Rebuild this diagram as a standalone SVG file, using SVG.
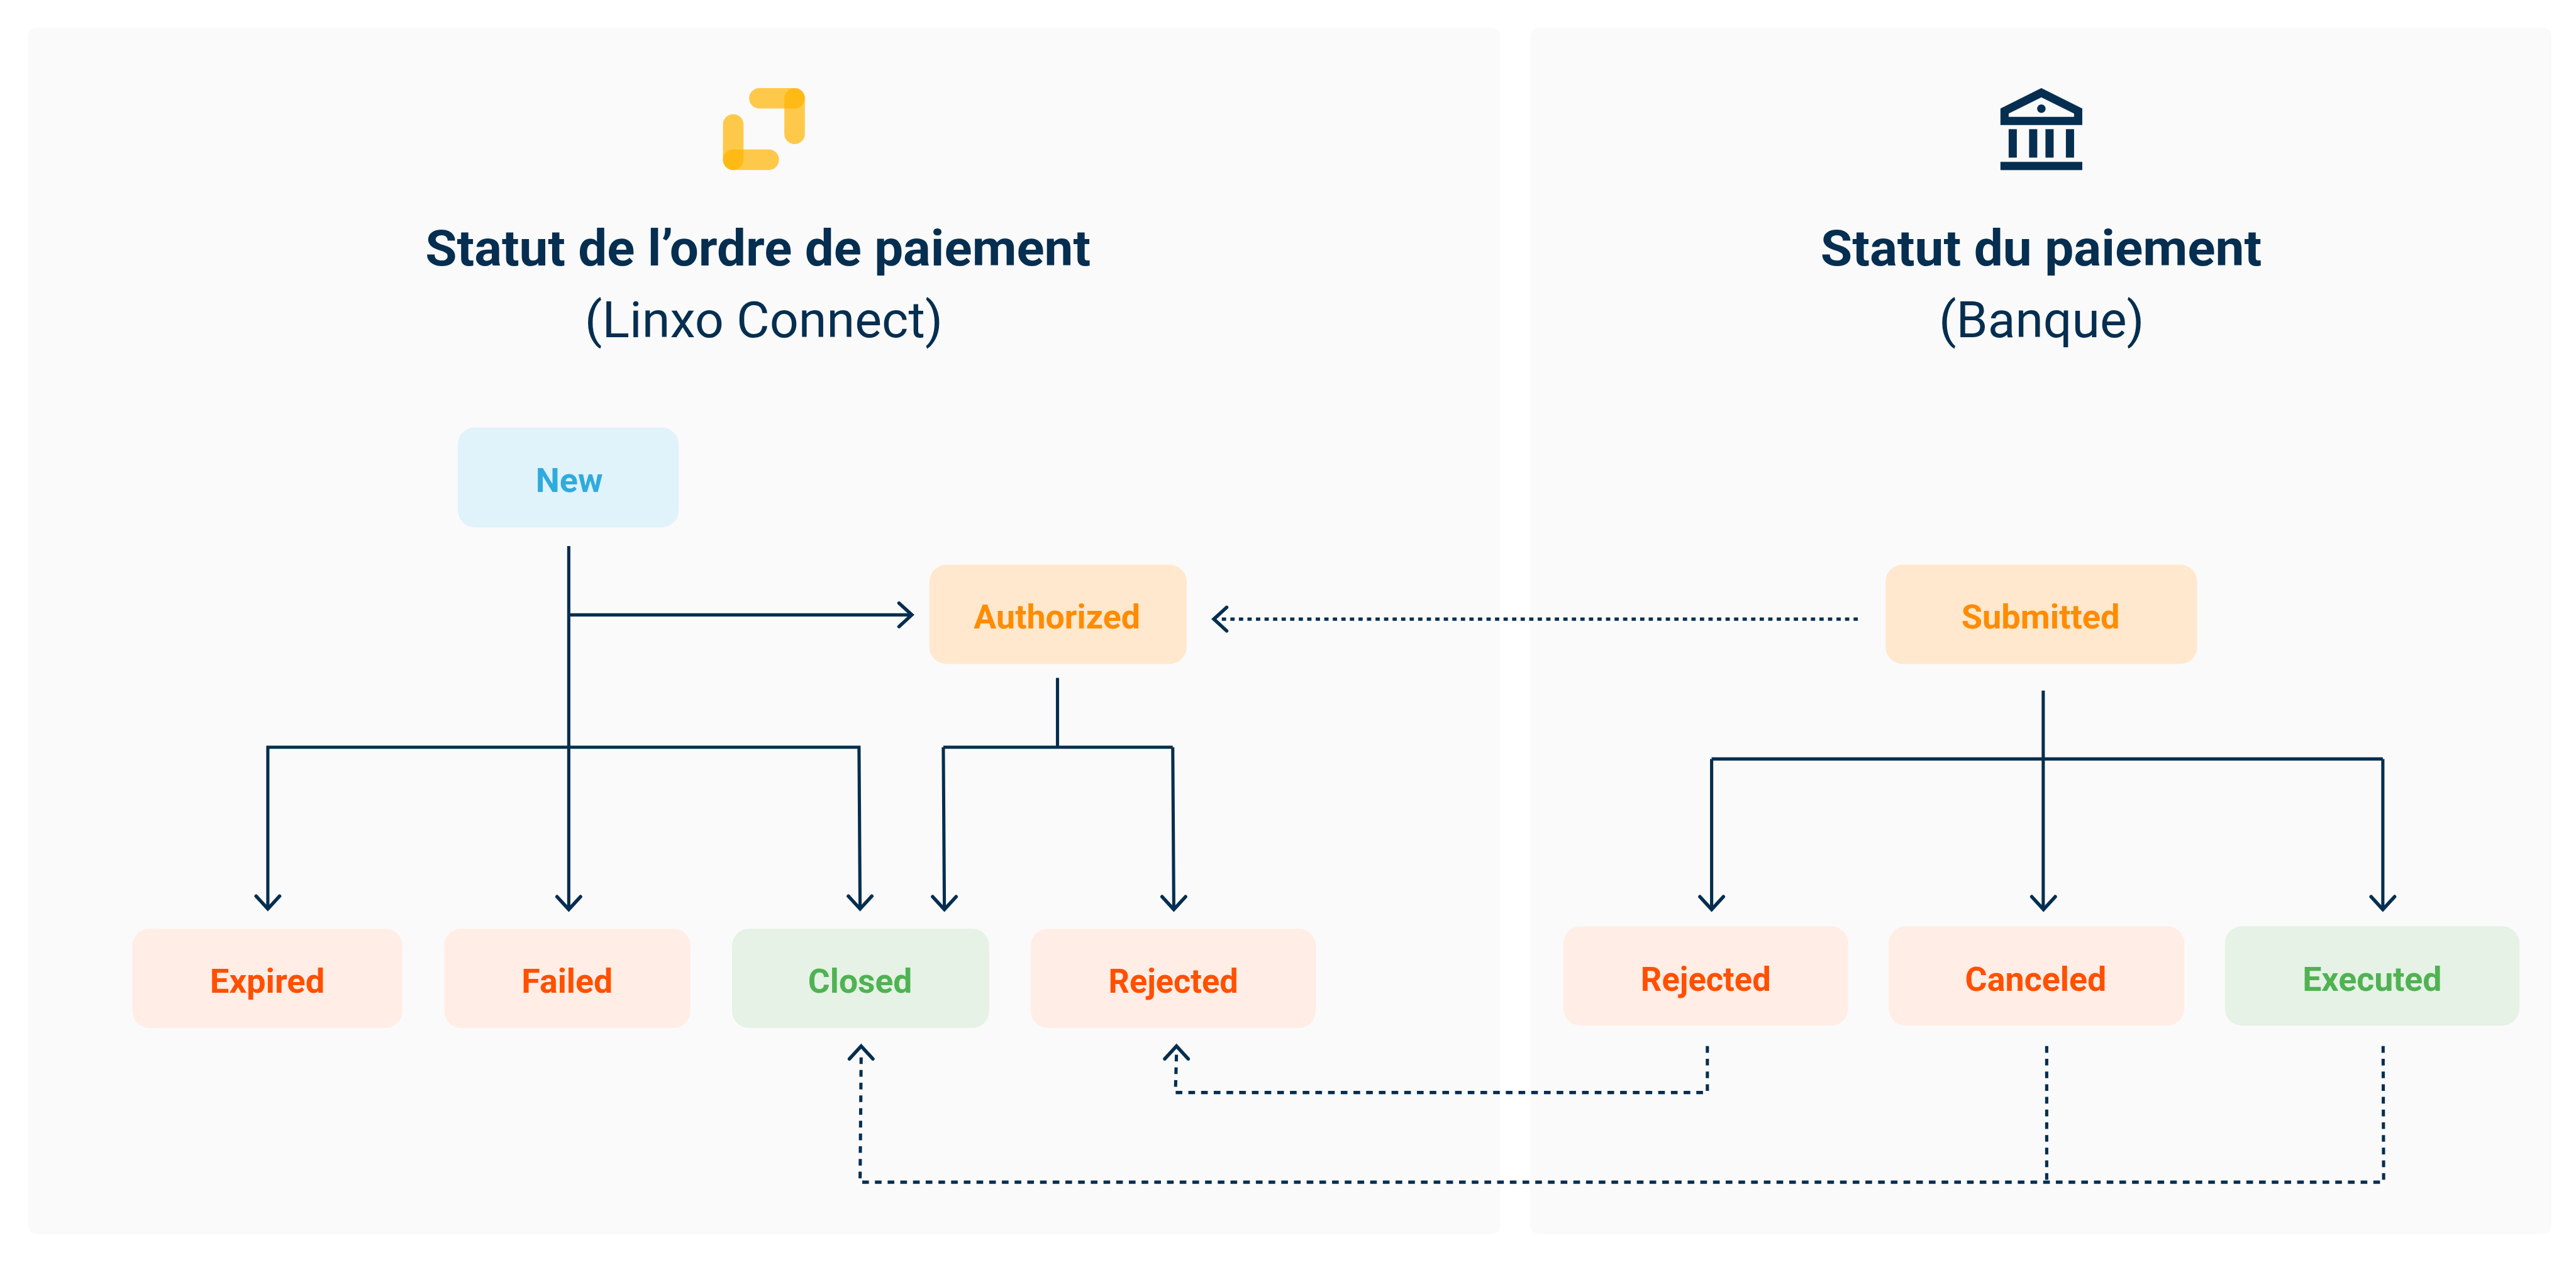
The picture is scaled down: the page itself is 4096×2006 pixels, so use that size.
<svg xmlns="http://www.w3.org/2000/svg" xmlns:xlink="http://www.w3.org/1999/xlink" width="4096" height="2006" viewBox="0 0 4096 2006">
<style>
text{font-family:"Roboto","Liberation Sans",sans-serif}
.lab{font-size:63px;font-weight:700}
.t1{font-size:93px;font-weight:700;fill:#052e50}
.t2{font-size:93px;font-weight:400;fill:#052e50}
.panel{fill:#fafafa}
.r{fill:#ffede6}.rt{fill:#ff5000}
.g{fill:#e5f2e5}.gt{fill:#50b253}
.o{fill:#ffe8ce}.ot{fill:#ff8c00}
.b{fill:#e0f2fa}.bt{fill:#2fabdd}
.pill{fill:#ffb300;opacity:.7}
.navy{fill:#052e50}
.ln{fill:none;stroke:#052e50;stroke-width:6}
.dash{stroke-dasharray:12.5 11.3}
.dot{stroke-dasharray:8 8}
.hd{fill:none;stroke:#052e50;stroke-width:6.500;stroke-linecap:round;stroke-linejoin:miter}
</style>
<defs><path id="head" class="hd" d="M-22,-24 L0,0 L22,-24"/></defs>
<rect width="4096" height="2006" fill="#fff"/>
<g transform="scale(0.84838)">
<g id="panels">
<rect id="panel-left" class="panel" x="52" y="52" width="2760" height="2260" rx="16"/>
<rect id="panel-right" class="panel" x="2868" y="52" width="1914" height="2260" rx="16"/>
</g>
<g id="logo-linxo">
<rect class="pill" x="1404" y="165" width="104.500" height="38.300" rx="19.150"/>
<rect class="pill" x="1470" y="165" width="38.500" height="105" rx="19.250"/>
<rect class="pill" x="1355" y="214" width="38.500" height="104.500" rx="19.250"/>
<rect class="pill" x="1355" y="280" width="105" height="38.500" rx="19.250"/>
</g>
<g id="icon-bank" class="navy">
<path fill-rule="evenodd" d="M3826,165L3902.700,203.300V234.300H3749.300V203.300ZM3826,182.300L3764.700,212.700V219H3887.300V212.700Z"/>
<circle cx="3826" cy="203.700" r="8"/>
<rect x="3764.700" y="242" width="15.300" height="53.300"/>
<rect x="3803" y="242" width="15.300" height="53.300"/>
<rect x="3833.700" y="242" width="15.300" height="53.300"/>
<rect x="3872" y="242" width="15.300" height="53.300"/>
<rect x="3749.300" y="303.300" width="153.400" height="15.400"/>
</g>
<g id="title-left">
<text class="t1" x="797" y="498" textLength="1247" lengthAdjust="spacingAndGlyphs">Statut de l’ordre de paiement</text>
<text class="t2" x="1096" y="632" textLength="671" lengthAdjust="spacingAndGlyphs">(Linxo Connect)</text>
</g>
<g id="title-right">
<text class="t1" x="3412" y="498" textLength="827" lengthAdjust="spacingAndGlyphs">Statut du paiement</text>
<text class="t2" x="3634" y="632" textLength="385" lengthAdjust="spacingAndGlyphs">(Banque)</text>
</g>
<g id="connectors">
<path class="ln" d="M1066,1023V1704M1066,1152H1709M502,1704V1400H1610L1612,1704M1982,1270V1400M1768,1400H2198M1768,1400L1770,1704M2198,1400L2200,1704M3829.500,1294V1704M3208,1422H4466M3208,1422V1704M4466,1422V1704"/>
<use xlink:href="#head" href="#head" transform="translate(502,1703)"/>
<use xlink:href="#head" href="#head" transform="translate(1066,1704)"/>
<use xlink:href="#head" href="#head" transform="translate(1612,1703)"/>
<use xlink:href="#head" href="#head" transform="translate(1770,1704)"/>
<use xlink:href="#head" href="#head" transform="translate(2200,1704)"/>
<use xlink:href="#head" href="#head" transform="translate(3208,1704)"/>
<use xlink:href="#head" href="#head" transform="translate(3830,1704)"/>
<use xlink:href="#head" href="#head" transform="translate(4466,1704)"/>
<use xlink:href="#head" href="#head" transform="translate(1709,1152) rotate(-90)"/>
<path class="ln dot" d="M3482,1160H2286"/>
<use xlink:href="#head" href="#head" transform="translate(2275,1160) rotate(90)"/>
<path class="ln dash" d="M3200,1960V2047H2203L2205,1975"/>
<path class="ln dash" d="M4466.500,1960L4467.500,2215H1612L1614,1978"/>
<path class="ln dash" d="M3836,1960V2215"/>
<use xlink:href="#head" href="#head" transform="translate(1614,1960) rotate(180)"/>
<use xlink:href="#head" href="#head" transform="translate(2205,1960) rotate(180)"/>
</g>
<g id="node-new"><rect class="b" x="858" y="801" width="414" height="187" rx="32"/><text class="lab bt" x="1004" y="922" textLength="126" lengthAdjust="spacingAndGlyphs">New</text></g>
<g id="node-authorized"><rect class="o" x="1742" y="1058" width="482" height="186" rx="32"/><text class="lab ot" x="1825" y="1178" textLength="312" lengthAdjust="spacingAndGlyphs">Authorized</text></g>
<g id="node-submitted"><rect class="o" x="3534" y="1058" width="584" height="186" rx="32"/><text class="lab ot" x="3676" y="1178" textLength="297" lengthAdjust="spacingAndGlyphs">Submitted</text></g>
<g id="node-expired"><rect class="r" x="248" y="1740" width="506" height="186" rx="32"/><text class="lab rt" x="393.500" y="1860" textLength="215" lengthAdjust="spacingAndGlyphs">Expired</text></g>
<g id="node-failed"><rect class="r" x="832.500" y="1740" width="461.500" height="186" rx="32"/><text class="lab rt" x="977.500" y="1860" textLength="171" lengthAdjust="spacingAndGlyphs">Failed</text></g>
<g id="node-closed"><rect class="g" x="1372" y="1740" width="482" height="186" rx="32"/><text class="lab gt" x="1514.500" y="1860" textLength="195" lengthAdjust="spacingAndGlyphs">Closed</text></g>
<g id="node-rejected-left"><rect class="r" x="1932" y="1740" width="534" height="186" rx="32"/><text class="lab rt" x="2077.500" y="1860" textLength="243" lengthAdjust="spacingAndGlyphs">Rejected</text></g>
<g id="node-rejected-right"><rect class="r" x="2930" y="1735.500" width="534" height="186" rx="32"/><text class="lab rt" x="3075" y="1856" textLength="244" lengthAdjust="spacingAndGlyphs">Rejected</text></g>
<g id="node-canceled"><rect class="r" x="3540" y="1735.500" width="554" height="186" rx="32"/><text class="lab rt" x="3683" y="1856" textLength="265" lengthAdjust="spacingAndGlyphs">Canceled</text></g>
<g id="node-executed"><rect class="g" x="4170" y="1735.500" width="552" height="186" rx="32"/><text class="lab gt" x="4315.500" y="1856" textLength="261" lengthAdjust="spacingAndGlyphs">Executed</text></g>
</g>
</svg>
